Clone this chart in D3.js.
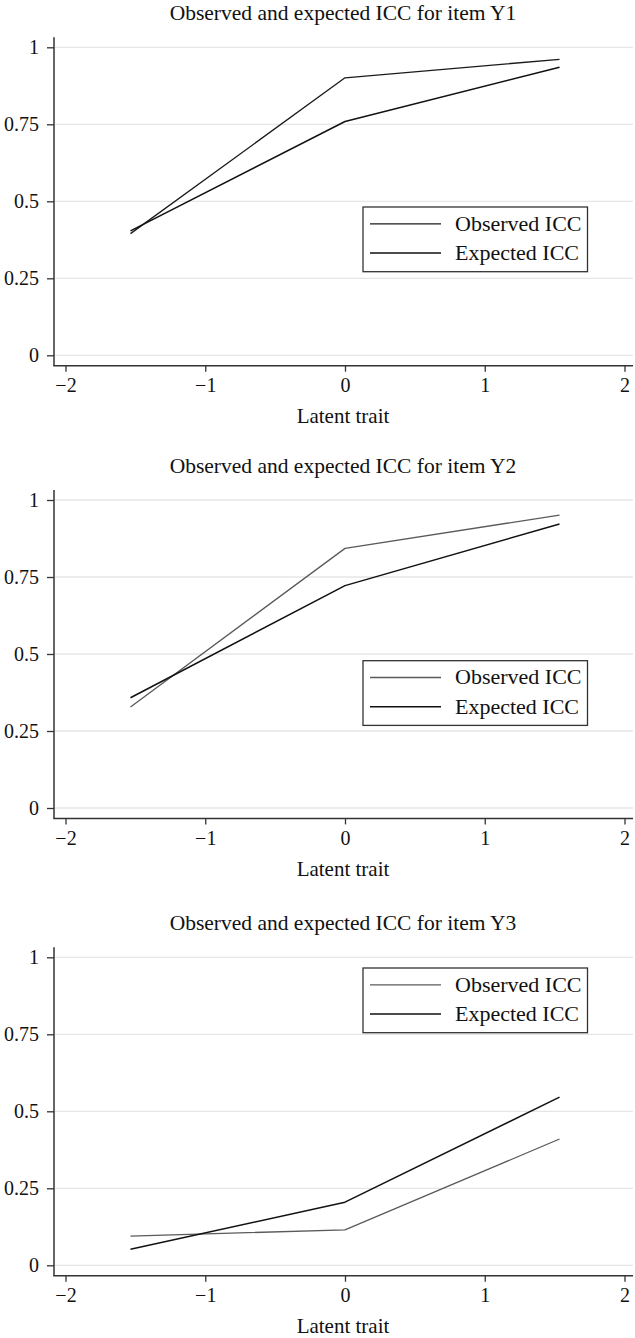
<!DOCTYPE html>
<html>
<head>
<meta charset="utf-8">
<script src="https://cdn.jsdelivr.net/npm/d3@7"></script>
<style>
  html, body { margin: 0; padding: 0; background: #fff; }
  svg { display: block; }
  text { font-family: "Liberation Serif", "DejaVu Serif", serif; fill: #111; }
</style>
</head>
<body>
<svg id="chart" width="635" height="1338"></svg>
<script>
// Latent trait positions at which the ICCs are evaluated
const thetaPoints = [-1.535, 0, 1.535];

// Items and their observed / expected characteristic curves
const itemNames = ["Y1", "Y2", "Y3"];
const observedY1 = [0.395, 0.901, 0.961];
const expectedY1 = [0.404, 0.759, 0.935];
const observedY2 = [0.328, 0.843, 0.951];
const expectedY2 = [0.358, 0.722, 0.922];
const observedY3 = [0.095, 0.115, 0.410];
const expectedY3 = [0.052, 0.205, 0.546];

const seriesNames = ["Observed ICC", "Expected ICC"];
const xTicks = [-2, -1, 0, 1, 2];
const yTicks = [0, 0.25, 0.5, 0.75, 1];
const yTickLabels = ["0", "0.25", "0.5", "0.75", "1"];

// first panel draws both curves in black; the others draw the observed curve in grey
const panels = [
  { item: itemNames[0], observed: observedY1, expected: expectedY1, top: 0,     legendTop: 207, observedColor: "#1a1a1a" },
  { item: itemNames[1], observed: observedY2, expected: expectedY2, top: 452.7, legendTop: 208, observedColor: "#5a5a5a" },
  { item: itemNames[2], observed: observedY3, expected: expectedY3, top: 910,   legendTop: 58,  observedColor: "#5a5a5a" }
];

const svg = d3.select("#chart");

const axisLeft = 54, axisRight = 633;
const x = d3.scaleLinear().domain([-2, 2]).range([65.5, 624.5]);
const fmtX = v => (v < 0 ? "\u2212" + Math.abs(v) : String(v));

panels.forEach(p => {
  const seriesStyle = [
    { key: "observed", color: p.observedColor, width: 1.3 },
    { key: "expected", color: "#111111", width: 1.5 }
  ];
  const g = svg.append("g").attr("transform", `translate(0,${p.top})`);
  const y = d3.scaleLinear().domain([0, 1]).range([355.3, 47.3]);
  const axisBottomY = 365.7;

  // title
  g.append("text")
    .attr("x", 343).attr("y", 20)
    .attr("text-anchor", "middle")
    .style("font-size", "21.5px")
    .text(`Observed and expected ICC for item ${p.item}`);

  // horizontal gridlines
  g.append("g").selectAll("line").data(yTicks).join("line")
    .attr("x1", axisLeft + 1).attr("x2", axisRight)
    .attr("y1", d => y(d)).attr("y2", d => y(d))
    .attr("stroke", "#e6e6e6").attr("stroke-width", 1.3);

  // y axis
  const yAxis = d3.axisLeft(y).tickValues(yTicks)
    .tickFormat((d, i) => yTickLabels[i]).tickSize(7).tickPadding(8);
  const ya = g.append("g").attr("transform", `translate(${axisLeft},0)`).call(yAxis);
  ya.select(".domain").remove();
  ya.selectAll(".tick line").attr("stroke", "#333").attr("stroke-width", 1.3);
  ya.selectAll(".tick text").style("font-size", "20px").attr("fill", "#111")
    .style("font-family", "Liberation Serif, serif");
  g.append("line")
    .attr("x1", axisLeft).attr("x2", axisLeft)
    .attr("y1", 37.3).attr("y2", axisBottomY)
    .attr("stroke", "#333").attr("stroke-width", 1.5);

  // x axis
  const xAxis = d3.axisBottom(x).tickValues(xTicks).tickFormat(fmtX)
    .tickSize(6).tickPadding(6);
  const xa = g.append("g").attr("transform", `translate(0,${axisBottomY})`).call(xAxis);
  xa.select(".domain").remove();
  xa.selectAll(".tick line").attr("stroke", "#333").attr("stroke-width", 1.3);
  xa.selectAll(".tick text").style("font-size", "20px").attr("fill", "#111")
    .style("font-family", "Liberation Serif, serif");
  g.append("line")
    .attr("x1", axisLeft - 0.75).attr("x2", axisRight)
    .attr("y1", axisBottomY).attr("y2", axisBottomY)
    .attr("stroke", "#333").attr("stroke-width", 1.5);

  // axis title
  g.append("text")
    .attr("x", 343).attr("y", 423)
    .attr("text-anchor", "middle")
    .style("font-size", "21px")
    .text("Latent trait");

  // curves
  const line = d3.line().x(d => x(d[0])).y(d => y(d[1]));
  seriesStyle.forEach(s => {
    const pts = thetaPoints.map((t, i) => [t, p[s.key][i]]);
    g.append("path").datum(pts)
      .attr("d", line)
      .attr("fill", "none")
      .attr("stroke", s.color)
      .attr("stroke-width", s.width)
      .attr("stroke-linejoin", "round");
  });

  // legend
  const lg = g.append("g").attr("transform", `translate(363,${p.legendTop})`);
  lg.append("rect")
    .attr("width", 224.5).attr("height", 64.7)
    .attr("fill", "#fff").attr("stroke", "#333").attr("stroke-width", 1.3);
  seriesStyle.forEach((s, i) => {
    const ry = 16.8 + i * 29.3;
    lg.append("line")
      .attr("x1", 7).attr("x2", 78)
      .attr("y1", ry).attr("y2", ry)
      .attr("stroke", s.color).attr("stroke-width", s.width);
    lg.append("text")
      .attr("x", 92).attr("y", ry + 7)
      .style("font-size", "22px")
      .text(seriesNames[i]);
  });
});
</script>
</body>
</html>
